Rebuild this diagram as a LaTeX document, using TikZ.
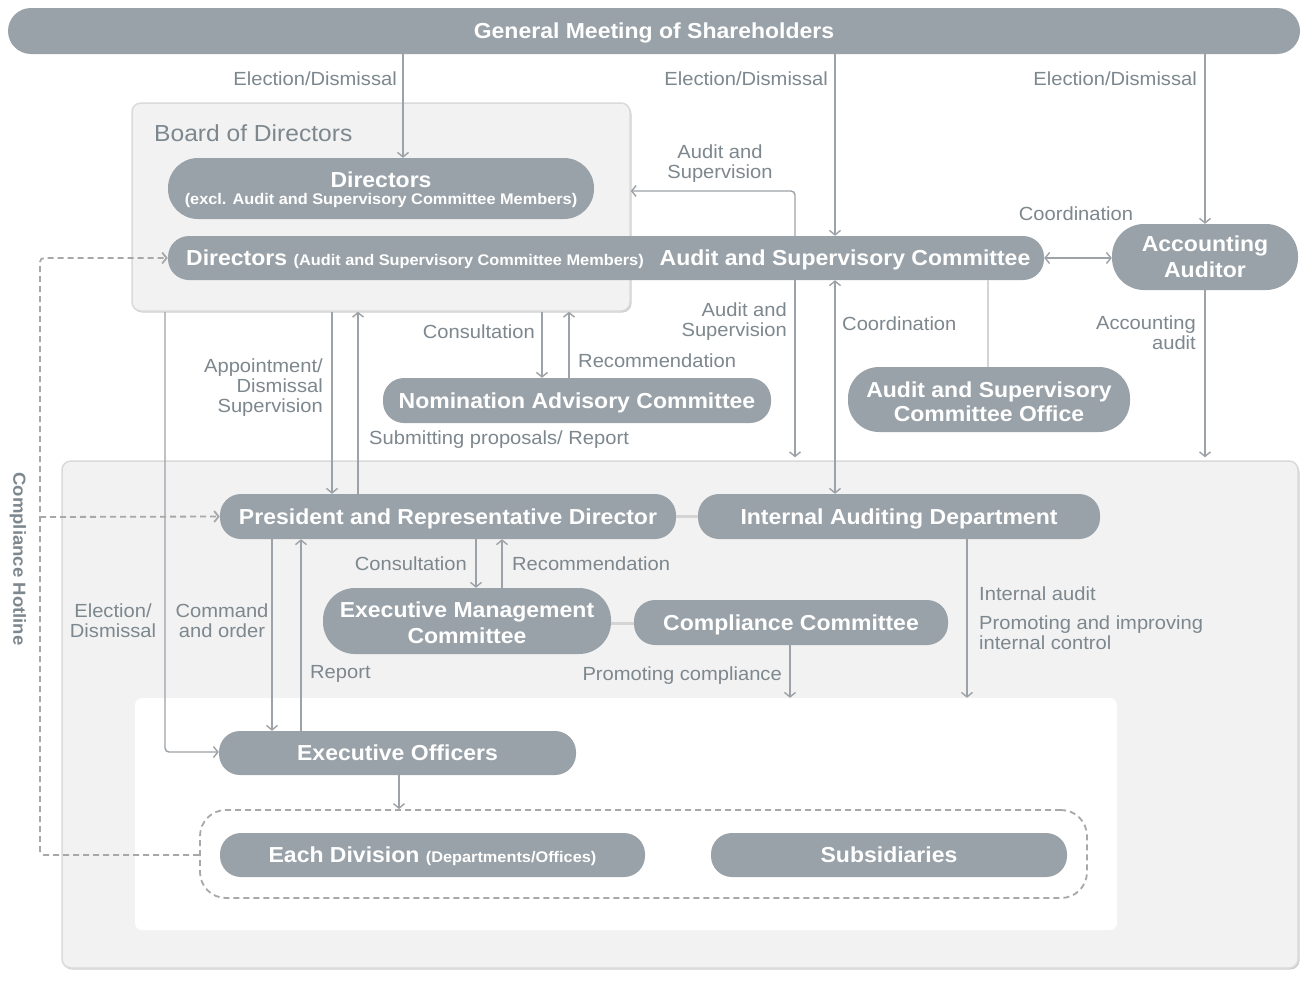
\documentclass[tikz,border=0pt]{standalone}
\usepackage{fontspec}
\setmainfont{Liberation Sans}[FakeStretch=1.06]
\usetikzlibrary{arrows.meta}
\definecolor{nodec}{HTML}{99A2A8}
\definecolor{labc}{HTML}{7D878E}
\definecolor{linec}{HTML}{9CA2A7}
\definecolor{boxf}{HTML}{F2F2F2}
\definecolor{boxd}{HTML}{DADADA}
\definecolor{boxs}{HTML}{CFCFCF}
\definecolor{lightc}{HTML}{D4D4D4}
\definecolor{dashc}{HTML}{A8A8A8}
\begin{document}
\begin{tikzpicture}[x=1pt,y=-1pt,
  pill/.style={fill=nodec, text=white, font=\bfseries\fontsize{21.7}{26}\selectfont, inner sep=0pt, align=center, rounded corners=#1},
  pill/.default=21pt,
  one/.style={text depth=0pt},
  wtxt/.style={text=white, font=\bfseries\fontsize{21.7}{24}\selectfont, inner sep=0pt, align=center},
  lab/.style={text=labc, font=\fontsize{19}{20}\selectfont, inner sep=0pt},
  arr/.style={draw=linec, line width=1.4pt, -{Straight Barb[length=4.5pt,width=11pt]}},
  darr/.style={draw=linec, line width=1.4pt, {Straight Barb[length=4.5pt,width=11pt]}-{Straight Barb[length=4.5pt,width=11pt]}},
  lite/.style={draw=lightc, line width=3pt},
  hot/.style={draw=dashc, line width=1.8pt, dash pattern=on 6pt off 4pt, rounded corners=4pt},
  bigbox/.style={draw=boxd, fill=boxf, line width=1.5pt, rounded corners=9pt, inner sep=0pt}
]
\useasboundingbox (0,0) rectangle (1305,980);
\fill[white] (0,0) rectangle (1305,980);

% containers
\fill[boxs, rounded corners=9pt] (133,105) rectangle (631.5,312.5);
\node[bigbox, minimum width=498pt, minimum height=208pt] (board) at (381,207) {};
\fill[boxs, rounded corners=9pt] (63,463) rectangle (1299.5,969.5);
\node[bigbox, minimum width=1236pt, minimum height=507pt] (lower) at (680,714.5) {};
\node[fill=white, rounded corners=7pt, minimum width=982pt, minimum height=232pt, inner sep=0pt] (inner) at (626,814) {};
\node[draw=dashc, line width=1.8pt, dash pattern=on 6pt off 4pt, rounded corners=26pt, minimum width=887pt, minimum height=88pt, inner sep=0pt] (grp) at (643.5,854) {};

% nodes
\node[pill=23pt, one, minimum width=1292pt, minimum height=46pt] (gm) at (654,31) {General Meeting of Shareholders};
\node[text=labc, font=\fontsize{23.2}{24}\selectfont, anchor=west, inner sep=0pt] (boardlab) at (154,133) {Board of Directors};
\node[pill=30pt, minimum width=426pt, minimum height=61pt] (dirx) at (381,188.5) {};
\node[wtxt] (dirxa) at (381,179.5) {Directors};
\node[wtxt, font=\bfseries\fontsize{15.4}{18}\selectfont] (dirxb) at (381,200.5) {(excl. Audit and Supervisory Committee Members)};
\node[pill, minimum width=876pt, minimum height=44pt] (asc) at (606,258) {};
\node[wtxt, anchor=west] (ascdir) at (186,259.5) {Directors {\fontsize{15.4}{18}\selectfont (Audit and Supervisory Committee Members)}};
\node[wtxt, text depth=0pt] (asct) at (845,258) {Audit and Supervisory Committee};
\node[pill=32pt, minimum width=186pt, minimum height=66pt] (acc) at (1205,257) {Accounting\\Auditor};
\node[pill, one, minimum width=388pt, minimum height=45pt] (nom) at (577,400.5) {Nomination Advisory Committee};
\node[pill=31pt, minimum width=282pt, minimum height=65pt] (ofc) at (989,399.5) {};
\node[wtxt] (ofct) at (989,401.5) {Audit and Supervisory\\Committee Office};
\node[pill, one, minimum width=456pt, minimum height=45pt] (pres) at (448,516.5) {President and Representative Director};
\node[pill, one, minimum width=402pt, minimum height=45pt] (iad) at (899,516.5) {Internal Auditing Department};
\node[pill=32pt, minimum width=288pt, minimum height=66pt] (emc) at (467,621) {};
\node[wtxt, font=\bfseries\fontsize{21.7}{26}\selectfont] (emct) at (467,623) {Executive Management\\Committee};
\node[pill, one, minimum width=314pt, minimum height=45pt] (cc) at (791,622.5) {Compliance Committee};
\node[pill, one, minimum width=357pt, minimum height=44pt] (eo) at (397.5,753) {Executive Officers};
\node[pill, one, minimum width=425pt, minimum height=44pt] (div) at (432.5,855) {Each Division {\fontsize{15.4}{18}\selectfont (Departments/Offices)}};
\node[pill, one, minimum width=356pt, minimum height=44pt] (sub) at (889,855) {Subsidiaries};

% labels
\node[lab, anchor=east] (l1) at (397,79) {Election/Dismissal};
\node[lab, anchor=east] (l2) at (828,79) {Election/Dismissal};
\node[lab, anchor=east] (l3) at (1197,79) {Election/Dismissal};
\node[lab, align=center] (l4) at (720,164) {Audit and\\Supervision};
\node[lab] (l5) at (1076,214) {Coordination};
\node[lab, anchor=east, align=right] (l6) at (787,322) {Audit and\\Supervision};
\node[lab, anchor=west] (l7) at (842,324) {Coordination};
\node[lab, anchor=east, align=right] (l8) at (1196,333) {Accounting\\audit};
\node[lab, anchor=east] (l9) at (535,332) {Consultation};
\node[lab, anchor=west] (l10) at (578,361) {Recommendation};
\node[lab, anchor=east, align=right] (l11) at (323,388) {Appointment/\\Dismissal\\Supervision};
\node[lab, anchor=west] (l12) at (369,440) {Submitting proposals/ Report};
\node[lab, anchor=east] (l13) at (467,564) {Consultation};
\node[lab, anchor=west] (l14) at (512,564) {Recommendation};
\node[lab, align=center] (l15) at (113,621) {Election/\\Dismissal};
\node[lab, align=center] (l16) at (222,621) {Command\\and order};
\node[lab, anchor=west] (l17) at (310,674) {Report};
\node[lab, anchor=east] (l18) at (782,676) {Promoting compliance};
\node[lab, anchor=west] (l19) at (979,594) {Internal audit};
\node[lab, anchor=west, align=left] (l20) at (979,633) {Promoting and improving\\internal control};
\node[text=labc, font=\bfseries\fontsize{17.5}{20}\selectfont, inner sep=0pt, rotate=-90] (hotlab) at (18,559) {Compliance Hotline};

% connectors
\draw[arr] (gm.south -| 403,0) -- (dirx.north -| 403,0);
\draw[arr] (gm.south -| 835,0) -- (asc.north -| 835,0);
\draw[arr] (gm.south -| 1205,0) -- (acc.north);
\draw[arr, rounded corners=4pt] (asc.north -| 795,0) -- (795,191) -- (board.east |- 0,191);
\draw[darr] (asc.east) -- (acc.west |- asc.east);
\draw[arr, shorten >=3pt] (asc.south -| 795,0) -- (lower.north -| 795,0);
\draw[darr] (asc.south -| 835,0) -- (iad.north -| 835,0);
\draw[draw=lightc, line width=2pt] (asc.south -| 988,0) -- (ofc.north -| 988,0);
\draw[arr, shorten >=3pt] (acc.south) -- (lower.north -| acc.south);
\draw[arr, rounded corners=4pt] (board.south -| 165,0) -- (165,752) -- (eo.west |- 0,752);
\draw[arr] (board.south -| 332,0) -- (pres.north -| 332,0);
\draw[arr] (pres.north -| 358,0) -- (board.south -| 358,0);
\draw[arr] (board.south -| 542,0) -- (nom.north -| 542,0);
\draw[arr] (nom.north -| 569,0) -- (board.south -| 569,0);
\draw[lite] (pres.east) -- (iad.west);
\draw[arr] (pres.south -| 476,0) -- (emc.north -| 476,0);
\draw[arr] (emc.north -| 502,0) -- (pres.south -| 502,0);
\draw[lite] (emc.east |- 0,623) -- (cc.west |- 0,623);
\draw[arr] (cc.south -| 790,0) -- (inner.north -| 790,0);
\draw[arr] (iad.south -| 967,0) -- (inner.north -| 967,0);
\draw[arr] (pres.south -| 272,0) -- (eo.north -| 272,0);
\draw[arr] (eo.north -| 301,0) -- (pres.south -| 301,0);
\draw[arr] (eo.south -| 399,0) -- (grp.north -| 399,0);
\draw[hot, -{Straight Barb[length=4.5pt,width=11pt]}] (grp.west |- div.west) -- (40,855) -- (40,258) -- (asc.west);
\draw[hot, -{Straight Barb[length=4.5pt,width=11pt]}] (40,517) -- (pres.west);
\end{tikzpicture}
\end{document}
